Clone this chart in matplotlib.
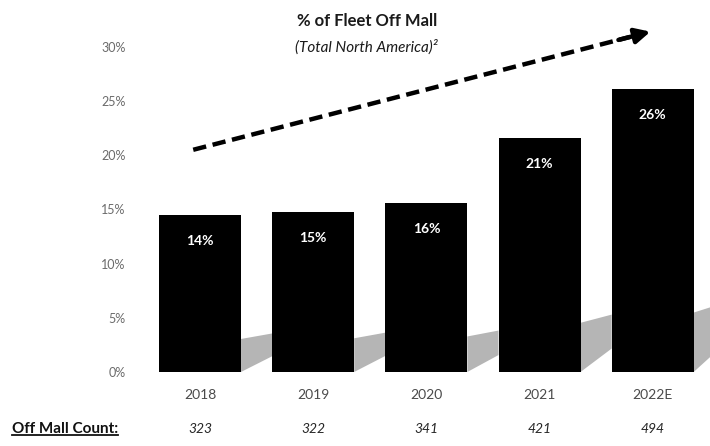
"""% of fleet off mall, total North America, 2018-2022E bar chart."""
import matplotlib
matplotlib.use("Agg")
import matplotlib.pyplot as plt
import matplotlib.transforms as mtransforms
import numpy as np

YEARS = ["2018", "2019", "2020", "2021", "2022E"]
PCT_OFF_MALL = [14.5, 14.8, 15.6, 21.6, 26.1]
PCT_LABELS = ["14%", "15%", "16%", "21%", "26%"]
OFF_MALL_COUNT = ["323", "322", "341", "421", "494"]
Y_TICKS = [0, 5, 10, 15, 20, 25, 30]

BAR_WIDTH = 0.725
FONT = "Lato"

plt.rcParams["font.family"] = [FONT, "DejaVu Sans"]

fig = plt.figure(figsize=(7.1, 4.46), dpi=100)
ax = fig.add_axes([0.202, 0.166, 0.797, 0.729])

x = np.arange(len(YEARS))

# soft floor shadow cast to the right of each bar
gap = 1 - BAR_WIDTH
for xi, h in zip(x, PCT_OFF_MALL):
    r = xi + BAR_WIDTH / 2
    ax.fill([r, r, r + gap, r + gap],
            [0, 0.21 * h, 0.245 * h, 0.1 * h],
            color="#b5b5b5", lw=0, zorder=1, clip_on=False)

bars = ax.bar(x, PCT_OFF_MALL, width=BAR_WIDTH, color="black", zorder=2)
for b, lab in zip(bars, PCT_LABELS):
    ax.annotate(lab, (b.get_x() + b.get_width() / 2, b.get_height()),
                xytext=(0, -19), textcoords="offset points",
                ha="center", va="center", color="white",
                fontsize=10, fontweight="bold", zorder=3)

ax.set_xlim(-0.5, len(YEARS) - 0.5)
ax.set_ylim(0, 30)
ax.set_yticks(Y_TICKS)
ax.set_yticklabels([f"{v}%" for v in Y_TICKS])
ax.set_xticks(x)
ax.set_xticklabels(YEARS)
ax.tick_params(axis="y", length=0, pad=13, labelsize=9, labelcolor="#6b6b6b")
ax.tick_params(axis="x", length=0, pad=12, labelsize=10, labelcolor="#4a4a4a")
for sp in ax.spines.values():
    sp.set_visible(False)

# trend arrow
x0, y0, x1, y1 = -0.06, 20.5, 3.98, 31.4
t = 0.955
ax.plot([x0, x0 + (x1 - x0) * t], [y0, y0 + (y1 - y0) * t],
        color="black", lw=3.2, dashes=(3.0, 1.5), clip_on=False, zorder=4)
ax.annotate("", xy=(x1, y1), xytext=(x0 + (x1 - x0) * 0.93, y0 + (y1 - y0) * 0.93),
            arrowprops=dict(arrowstyle="-|>,head_length=0.9,head_width=0.45",
                            color="black", lw=3.2, shrinkA=0, shrinkB=0),
            annotation_clip=False, zorder=4)

# title
fig.text(367 / 710, 1 - 21 / 446, "% of Fleet Off Mall", ha="center", va="center",
         fontsize=12, fontweight="bold", color="#1a1a1a")
fig.text(366 / 710, 1 - 47 / 446, "(Total North America)\u00b2", ha="center",
         va="center", fontsize=11, fontstyle="italic", color="#1a1a1a")

# off mall count row
trans = mtransforms.blended_transform_factory(ax.transData, fig.transFigure)
y_row = 1 - 429 / 446
for xi, c in zip(x, OFF_MALL_COUNT):
    ax.text(xi, y_row, c, transform=trans, ha="center", va="center",
            fontsize=10, fontstyle="italic", color="#262626")
lbl = fig.text(12 / 710, y_row, "Off Mall Count:", ha="left", va="center",
               fontsize=11, fontweight="bold", color="#111111")
fig.canvas.draw()
bb = lbl.get_window_extent().transformed(fig.transFigure.inverted())
fig.add_artist(plt.Line2D([bb.x0, bb.x1], [bb.y0 + 0.002, bb.y0 + 0.002],
                          transform=fig.transFigure, color="#111111", lw=1.3))

fig.savefig("out.png", dpi=100)
